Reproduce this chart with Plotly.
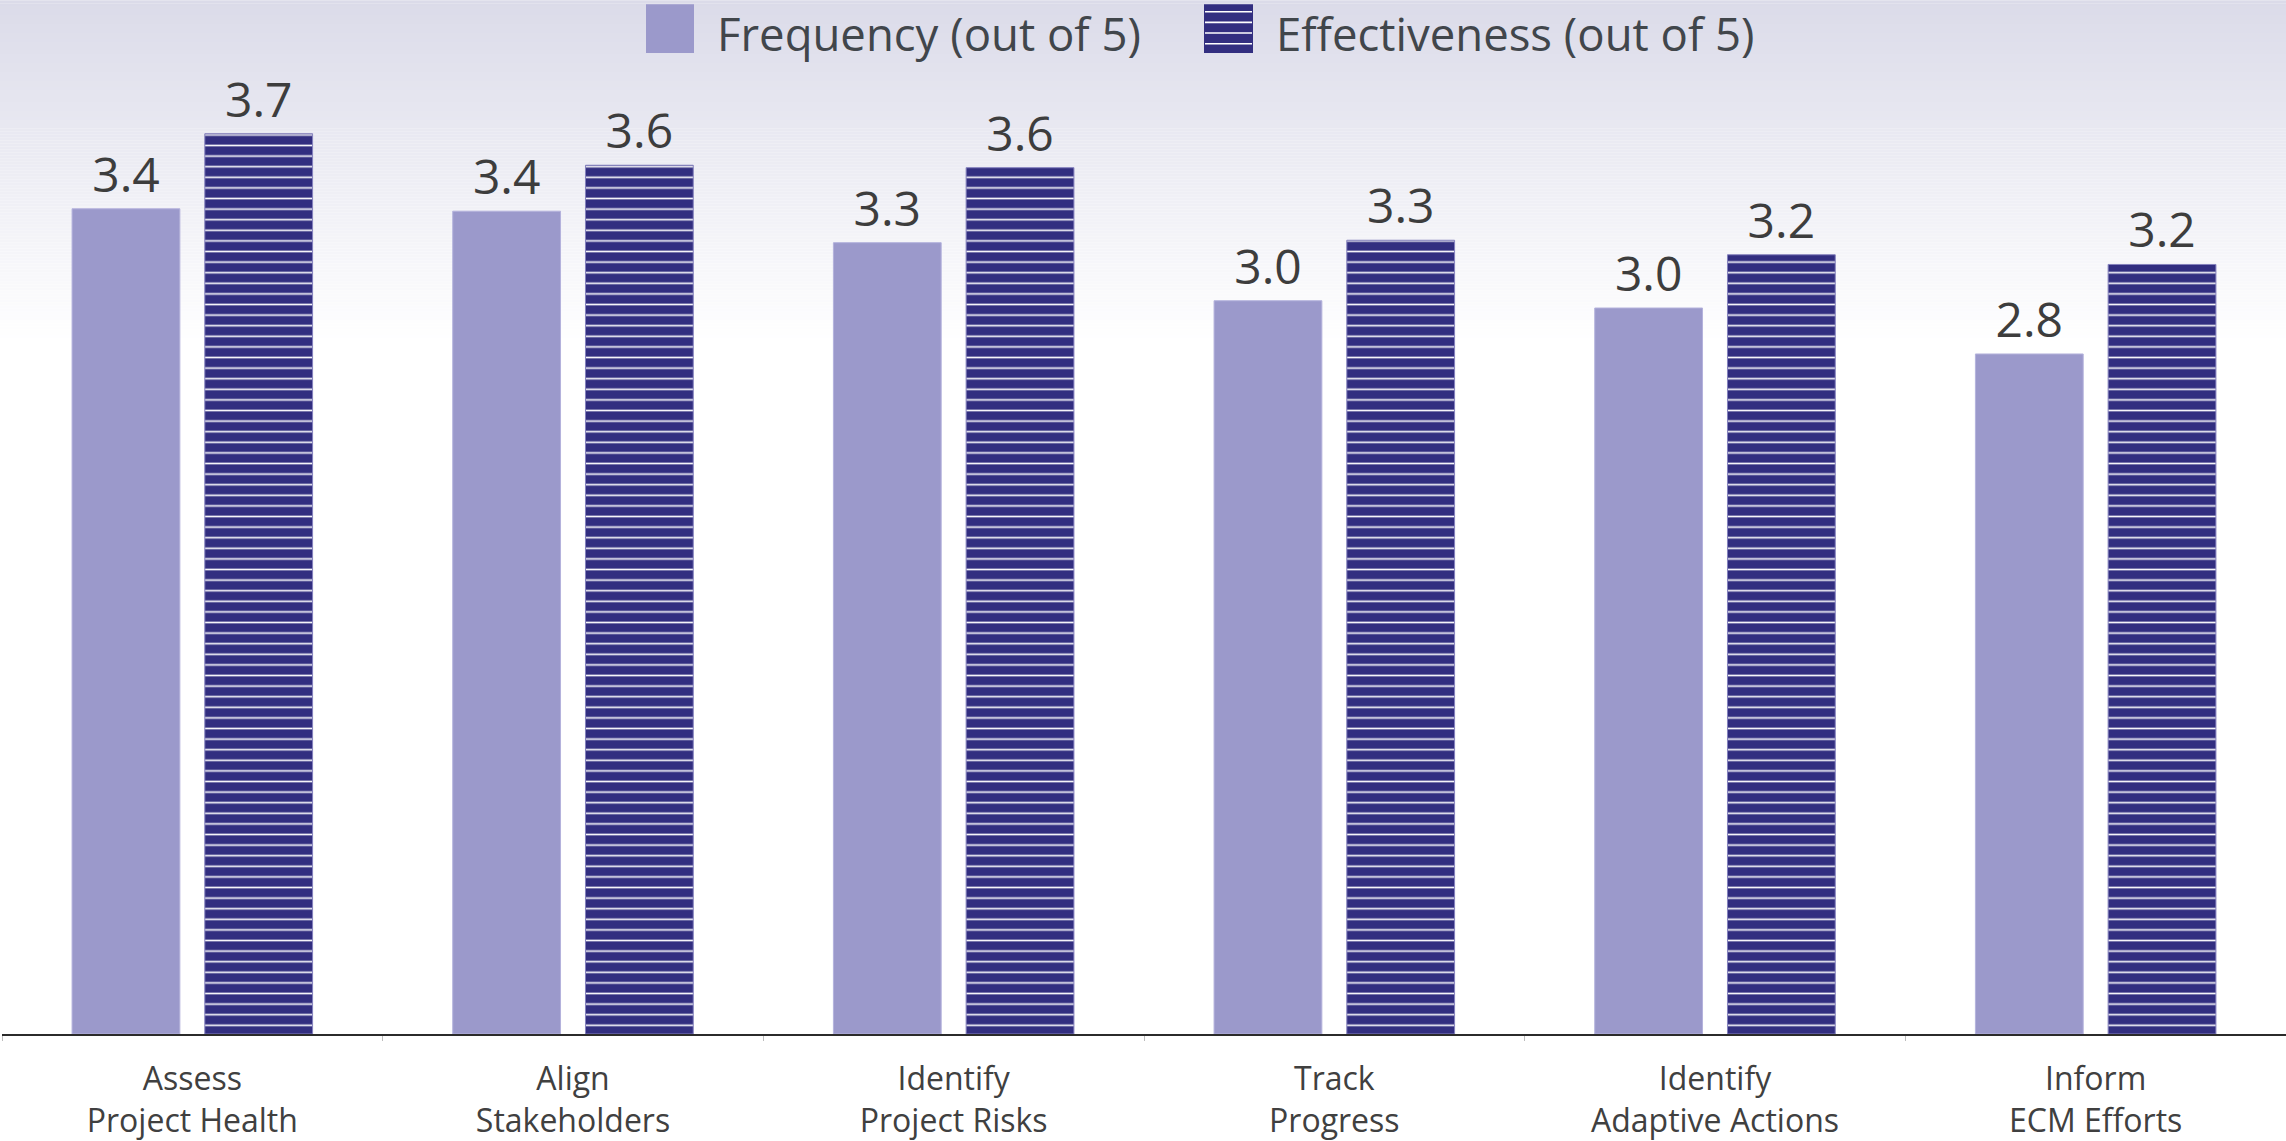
import plotly.graph_objects as go

# ---- data -------------------------------------------------------------
categories = [
    "Assess<br>Project Health",
    "Align<br>Stakeholders",
    "Identify<br>Project Risks",
    "Track<br>Progress",
    "Identify<br>Adaptive Actions",
    "Inform<br>ECM Efforts",
]
frequency = [3.41, 3.40, 3.27, 3.03, 3.00, 2.81]
effectiveness = [3.72, 3.59, 3.58, 3.28, 3.22, 3.18]
series_names = ["Frequency (out of 5)", "Effectiveness (out of 5)"]

# ---- page geometry ----------------------------------------------------
W, H = 2286, 1141
M_L, M_R, M_T, M_B = 2, 0, 66, 105
PLOT_W = W - M_L - M_R
PLOT_H = H - M_T - M_B
PLOT_BOTTOM = H - M_B

FREQ_COLOR = "#9b99cb"
EFF_COLOR = "#322e80"
TEXT_COLOR = "#3d3d3d"
FONT = "Open Sans"


def px_x(p):
    return (p - M_L) / PLOT_W


def px_y(p):
    return (PLOT_BOTTOM - p) / PLOT_H


fig = go.Figure()

fig.add_trace(go.Bar(
    name=series_names[0],
    x=categories,
    y=frequency,
    marker=dict(color=FREQ_COLOR, line=dict(color="#b4b2dc", width=1)),
    texttemplate="%{y:.1f}",
    textposition="outside",
    textfont=dict(size=48, color=TEXT_COLOR, family=FONT),
    cliponaxis=False,
    showlegend=False,
))

fig.add_trace(go.Bar(
    name=series_names[1],
    x=categories,
    y=effectiveness,
    marker=dict(
        color=EFF_COLOR,
        line=dict(color="#8481bd", width=1),
        pattern=dict(shape="-", size=10.6, solidity=0.16,
                     fgcolor="#ffffff", bgcolor=EFF_COLOR, fgopacity=0.95),
    ),
    texttemplate="%{y:.1f}",
    textposition="outside",
    textfont=dict(size=48, color=TEXT_COLOR, family=FONT),
    cliponaxis=False,
    showlegend=False,
))

shapes = []

# soft lavender wash at the top of the page fading into white
top_rgb = (219, 219, 233)
fade_end = 345
step = 3
for y0 in range(0, fade_end, step):
    t = (y0 + step / 2) / fade_end
    r, g, b = [round(c + (255 - c) * t) for c in top_rgb]
    shapes.append(dict(
        type="rect", xref="paper", yref="paper", layer="below",
        x0=px_x(0), x1=px_x(W), y0=px_y(y0), y1=px_y(min(y0 + step, fade_end)),
        fillcolor=f"rgb({r},{g},{b})", line=dict(width=0),
    ))

# legend swatches
sw_top, sw_bot = 4, 53
shapes.append(dict(type="rect", xref="paper", yref="paper",
                   x0=px_x(646), x1=px_x(694), y0=px_y(sw_bot), y1=px_y(sw_top),
                   fillcolor=FREQ_COLOR, line=dict(width=0)))
shapes.append(dict(type="rect", xref="paper", yref="paper",
                   x0=px_x(1204), x1=px_x(1253), y0=px_y(sw_bot), y1=px_y(sw_top),
                   fillcolor=EFF_COLOR, line=dict(width=0)))
for yy in (11.7, 22.3, 33.0, 43.7):
    shapes.append(dict(type="line", xref="paper", yref="paper",
                       x0=px_x(1205), x1=px_x(1252), y0=px_y(yy), y1=px_y(yy),
                       line=dict(color="#ffffff", width=1.6)))

# legend labels
legend_font = dict(size=45.5, color="#41464b", family=FONT)
annotations = [
    dict(text=series_names[0], xref="paper", yref="paper",
         x=px_x(716), y=px_y(1), xanchor="left", yanchor="top",
         borderpad=0, showarrow=False, font=legend_font),
    dict(text=series_names[1], xref="paper", yref="paper",
         x=px_x(1275), y=px_y(1), xanchor="left", yanchor="top",
         borderpad=0, showarrow=False, font=legend_font),
]

fig.update_layout(
    width=W, height=H,
    margin=dict(l=M_L, r=M_R, t=M_T, b=M_B, pad=0),
    paper_bgcolor="#ffffff",
    plot_bgcolor="rgba(0,0,0,0)",
    barmode="group",
    bargap=0.3026,
    bargroupgap=0.188,
    font=dict(family=FONT, color=TEXT_COLOR),
    shapes=shapes,
    annotations=annotations,
    showlegend=False,
    xaxis=dict(
        type="category",
        showline=True, linecolor="#2b2b2b", linewidth=2,
        ticks="outside", tickson="boundaries", ticklen=5,
        tickcolor="#bdbdbd", tickwidth=1,
        ticklabelstandoff=16,
        tickfont=dict(size=32, color="#404040", family=FONT),
        showgrid=False, zeroline=False,
    ),
    yaxis=dict(
        range=[0, 4], visible=False, showgrid=False, zeroline=False,
    ),
)

fig.write_html("out.html")
